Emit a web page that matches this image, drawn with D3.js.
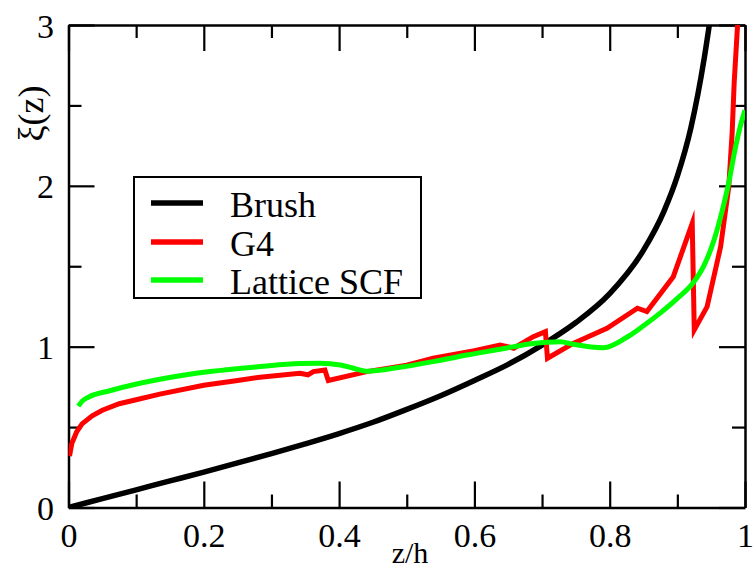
<!DOCTYPE html>
<html><head><meta charset="utf-8">
<script src="https://cdn.jsdelivr.net/npm/d3@7"></script>
<style>
body{margin:0;background:#fff} svg{display:block}
svg text{font-family:"Liberation Serif","Times New Roman",serif;}
</style>
</head><body><svg id="c" width="754" height="569"></svg>
<script>
// ---- data ----
const seriesNames = ["Brush", "G4", "Lattice SCF"];
const seriesColors = ["#000000", "#ff0000", "#00ff00"];

const brushZ = [0, 0.05, 0.1, 0.15, 0.2, 0.25, 0.3, 0.35, 0.4, 0.45, 0.5, 0.55, 0.6, 0.65, 0.7, 0.75, 0.8, 0.85, 0.88, 0.9, 0.92, 0.94, 0.95];
const brushV = [0, 0.055, 0.11, 0.165, 0.22, 0.277, 0.335, 0.396, 0.46, 0.53, 0.61, 0.695, 0.79, 0.89, 1.01, 1.15, 1.33, 1.6, 1.84, 2.06, 2.36, 2.8, 3.08];

const g4Z = [0.0015, 0.005, 0.012, 0.02, 0.035, 0.05, 0.075, 0.1, 0.135, 0.2, 0.25, 0.283, 0.342, 0.354, 0.362, 0.379, 0.384, 0.441, 0.5, 0.539, 0.6, 0.638, 0.649, 0.658, 0.687, 0.705, 0.708, 0.746, 0.796, 0.841, 0.855, 0.894, 0.922, 0.925, 0.944, 0.964, 0.976, 0.981, 0.984, 0.989, 0.991];
const g4V = [0.32, 0.40, 0.47, 0.52, 0.57, 0.605, 0.645, 0.67, 0.705, 0.76, 0.79, 0.81, 0.835, 0.825, 0.845, 0.855, 0.79, 0.845, 0.885, 0.928, 0.975, 1.01, 1.0, 0.99, 1.062, 1.093, 0.928, 1.02, 1.114, 1.239, 1.218, 1.435, 1.767, 1.104, 1.249, 1.622, 1.995, 2.33, 2.64, 3.0, 3.1];

const scfZ = [0.0145, 0.02, 0.029, 0.061, 0.135, 0.209, 0.283, 0.342, 0.372, 0.402, 0.421, 0.441, 0.49, 0.539, 0.589, 0.638, 0.687, 0.727, 0.746, 0.791, 0.826, 0.85, 0.875, 0.9, 0.924, 0.94, 0.954, 0.966, 0.976, 0.985, 0.993, 1.0];
const scfV = [0.63, 0.66, 0.685, 0.726, 0.797, 0.845, 0.876, 0.895, 0.897, 0.886, 0.866, 0.847, 0.872, 0.907, 0.948, 0.984, 1.02, 1.031, 1.015, 0.993, 1.06, 1.13, 1.21, 1.30, 1.40, 1.51, 1.66, 1.84, 2.02, 2.22, 2.37, 2.47];

const xMajor = [0, 0.2, 0.4, 0.6, 0.8, 1];
const xMajorLabels = ["0", "0.2", "0.4", "0.6", "0.8", "1"];
const xMinor = [0.1, 0.3, 0.5, 0.7, 0.9];
const yMajor = [0, 1, 2, 3];
const yMajorLabels = ["0", "1", "2", "3"];
const yMinor = [0.5, 1.5, 2.5];

// ---- layout ----
const FONT = "Liberation Serif, serif";
const L = 68.5, R = 745, T = 25, B = 507.5;
const svg = d3.select("#c");
const x = d3.scaleLinear().domain([0, 1]).range([L, R]);
const y = d3.scaleLinear().domain([0, 3]).range([B, T]);

function styleAxis(g, showText) {
  g.attr("font-family", FONT).attr("font-size", 34);
  g.select(".domain").attr("stroke", "#000").attr("stroke-width", 2.5);
  g.selectAll(".tick line").attr("stroke", "#000").attr("stroke-width", 2.2);
  g.selectAll(".tick text").attr("fill", "#000");
  if (!showText) g.selectAll(".tick text").remove();
}

// bottom
const gb = svg.append("g").attr("transform", `translate(0,${B})`)
  .call(d3.axisBottom(x).tickValues(xMajor).tickSizeInner(-26).tickSizeOuter(0)
    .tickFormat((d, i) => xMajorLabels[i]));
styleAxis(gb, true);
gb.selectAll(".tick text").attr("y", 39.5).attr("dy", 0);
svg.append("g").attr("transform", `translate(0,${B})`)
  .call(d3.axisBottom(x).tickValues(xMinor).tickSizeInner(-13).tickSizeOuter(0))
  .call(g => { styleAxis(g, false); g.select(".domain").remove(); });
// top
svg.append("g").attr("transform", `translate(0,${T})`)
  .call(d3.axisTop(x).tickValues(xMajor).tickSizeInner(-26).tickSizeOuter(0))
  .call(g => styleAxis(g, false));
svg.append("g").attr("transform", `translate(0,${T})`)
  .call(d3.axisTop(x).tickValues(xMinor).tickSizeInner(-13).tickSizeOuter(0))
  .call(g => { styleAxis(g, false); g.select(".domain").remove(); });
// left
const gl = svg.append("g").attr("transform", `translate(${L},0)`)
  .call(d3.axisLeft(y).tickValues(yMajor).tickSizeInner(-26).tickSizeOuter(0).tickPadding(14.5)
    .tickFormat((d, i) => yMajorLabels[i]));
styleAxis(gl, true);
gl.selectAll(".tick text").attr("x", -14.5).attr("dy", 12);
svg.append("g").attr("transform", `translate(${L},0)`)
  .call(d3.axisLeft(y).tickValues(yMinor).tickSizeInner(-13).tickSizeOuter(0))
  .call(g => { styleAxis(g, false); g.select(".domain").remove(); });
// right
svg.append("g").attr("transform", `translate(${R},0)`)
  .call(d3.axisRight(y).tickValues(yMajor).tickSizeInner(-26).tickSizeOuter(0))
  .call(g => styleAxis(g, false));
svg.append("g").attr("transform", `translate(${R},0)`)
  .call(d3.axisRight(y).tickValues(yMinor).tickSizeInner(-13).tickSizeOuter(0))
  .call(g => { styleAxis(g, false); g.select(".domain").remove(); });

// ---- curves ----
svg.append("clipPath").attr("id", "clip").append("rect")
  .attr("x", L).attr("y", T).attr("width", R - L).attr("height", B - T);
const plot = svg.append("g").attr("clip-path", "url(#clip)");

const smooth = d3.line().x(d => x(d[0])).y(d => y(d[1])).curve(d3.curveMonotoneX);
const straight = d3.line().x(d => x(d[0])).y(d => y(d[1]));

const series = [
  { pts: d3.zip(brushZ, brushV), gen: smooth, w: 5.5 },
  { pts: d3.zip(g4Z, g4V), gen: straight, w: 5 },
  { pts: d3.zip(scfZ, scfV), gen: smooth, w: 5 }
];
series.forEach((s, i) => {
  plot.append("path").attr("d", s.gen(s.pts)).attr("fill", "none")
    .attr("stroke", seriesColors[i]).attr("stroke-width", s.w)
    .attr("stroke-linejoin", "miter").attr("stroke-miterlimit", 6);
});

// ---- axis titles ----
svg.append("text").attr("x", 410).attr("y", 563).attr("text-anchor", "middle")
  .attr("font-size", 30).text("z/h");
svg.append("text").attr("transform", "translate(43,113.5) rotate(-90)")
  .attr("text-anchor", "middle").attr("font-size", 36).text("ξ(z)");

// ---- legend ----
const lg = svg.append("g");
lg.append("rect").attr("x", 134).attr("y", 177).attr("width", 287).attr("height", 121)
  .attr("fill", "#fff").attr("stroke", "#000").attr("stroke-width", 2);
const rowY = [203, 242, 280];
seriesNames.forEach((n, i) => {
  lg.append("line").attr("x1", 151).attr("x2", 203).attr("y1", rowY[i]).attr("y2", rowY[i])
    .attr("stroke", seriesColors[i]).attr("stroke-width", 5.3);
  lg.append("text").attr("x", 230).attr("y", rowY[i] + 13.5)
    .attr("font-size", 36).text(n);
});
</script>
</body></html>
